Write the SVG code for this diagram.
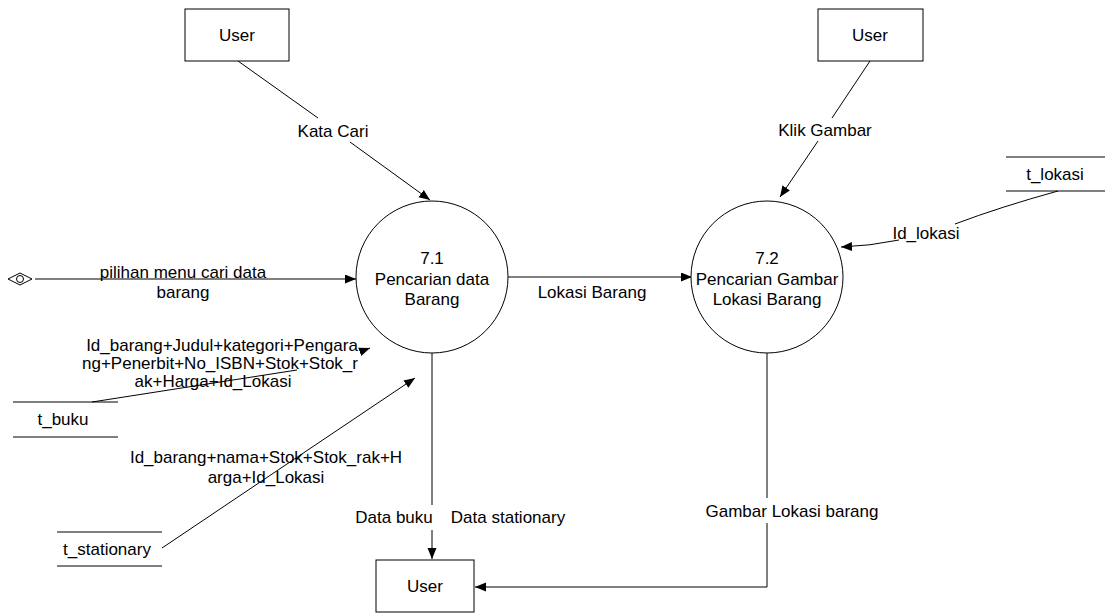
<svg xmlns="http://www.w3.org/2000/svg" width="1105" height="613" viewBox="0 0 1105 613">
<style>
text{font-family:"Liberation Sans",Arial,sans-serif;font-size:17px;fill:#000;text-anchor:middle}
.n{fill:#fff;stroke:#000;stroke-width:1}
.c{fill:none;stroke:#000;stroke-width:1}
</style>
<defs>
<marker id="a" markerWidth="12" markerHeight="10" refX="11" refY="4.5" orient="auto" markerUnits="userSpaceOnUse">
<path d="M0,0 L11,4.5 L0,9 z" fill="#000"/>
</marker>
</defs>
<rect width="1105" height="613" fill="#fff"/>
<g id="connectors">
<path class="c" d="M238,61 L318,118"/>
<path class="c" d="M350,142 L430,200" marker-end="url(#a)"/>
<path class="c" d="M870,61 L832,118"/>
<path class="c" d="M818,141 L780,197" marker-end="url(#a)"/>
<path class="c" d="M1058,191 Q1000,207 955,224"/>
<path class="c" d="M899,240 Q870,246 841,247" marker-end="url(#a)"/>
<path class="c" d="M35,279 L356,279" marker-end="url(#a)"/>
<path class="c" d="M508,277 L692,277" marker-end="url(#a)"/>
<path class="c" d="M92,402 L297,370"/>
<path class="c" d="M362,351 L370,348" marker-end="url(#a)"/>
<path class="c" d="M162,548 L415,378" marker-end="url(#a)"/>
<path class="c" d="M432,353 L432,505"/>
<path class="c" d="M432,530 L432,559" marker-end="url(#a)"/>
<path class="c" d="M767,353 L767,498"/>
<path class="c" d="M767,523 L767,587 L475,587" marker-end="url(#a)"/>
<text x="333" y="137">Kata Cari</text>
<text x="825" y="136">Klik Gambar</text>
<text x="926" y="239">Id_lokasi</text>
<text x="183" y="278">pilihan menu cari data</text>
<text x="183" y="298">barang</text>
<text x="592" y="298">Lokasi Barang</text>
<text x="222" y="351">Id_barang+Judul+kategori+Pengara</text>
<text x="220" y="369">ng+Penerbit+No_ISBN+Stok+Stok_r</text>
<text x="213" y="387">ak+Harga+Id_Lokasi</text>
<text x="266" y="463">Id_barang+nama+Stok+Stok_rak+H</text>
<text x="266" y="483">arga+Id_Lokasi</text>
<text x="394" y="523">Data buku</text>
<text x="508" y="523">Data stationary</text>
<text x="792" y="517">Gambar Lokasi barang</text>
</g>
<g id="source">
<path class="c" d="M8,279 L20,273 L32,279 L20,285 z"/>
<circle class="c" cx="20" cy="279" r="3.5"/>
</g>
<g id="user1">
<rect class="n" x="185" y="9" width="104" height="52"/>
<text x="237" y="41">User</text>
</g>
<g id="user2">
<rect class="n" x="818" y="9" width="105" height="52"/>
<text x="870" y="41">User</text>
</g>
<g id="user3">
<rect class="n" x="376" y="560" width="98" height="52"/>
<text x="425" y="592">User</text>
</g>
<g id="p71">
<circle class="n" cx="432" cy="277" r="76"/>
<text x="432" y="264">7.1</text>
<text x="432" y="285">Pencarian data</text>
<text x="432" y="305">Barang</text>
</g>
<g id="p72">
<circle class="n" cx="767" cy="277" r="76"/>
<text x="767" y="264">7.2</text>
<text x="767" y="285">Pencarian Gambar</text>
<text x="767" y="305">Lokasi Barang</text>
</g>
<g id="t_lokasi">
<path class="c" d="M1006,157 L1105,157 M1006,191 L1105,191"/>
<text x="1055" y="180">t_lokasi</text>
</g>
<g id="t_buku">
<path class="c" d="M13,402 L118,402 M13,437 L118,437"/>
<text x="63" y="425">t_buku</text>
</g>
<g id="t_stationary">
<path class="c" d="M57,532 L162,532 M57,566 L162,566"/>
<text x="107" y="555">t_stationary</text>
</g>
</svg>
